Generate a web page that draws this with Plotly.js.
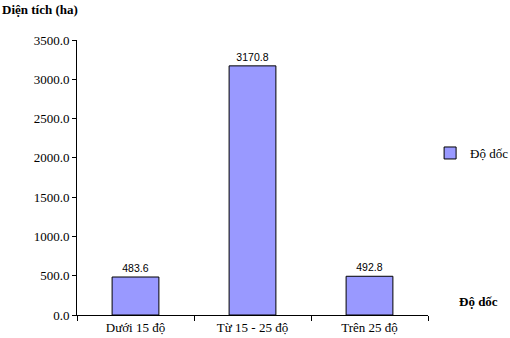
<!DOCTYPE html>
<html><head><meta charset="utf-8">
<script src="https://cdn.plot.ly/plotly-3.0.1.min.js"></script>
<style>body{margin:0;padding:0;background:#fff}</style>
</head><body>
<div id="chart" style="width:510px;height:338px"></div>
<script>
const categories = ["Dưới 15 độ", "Từ 15 - 25 độ", "Trên 25 độ"];
const values = [483.6, 3170.8, 492.8];
const labels = ["483.6", "3170.8", "492.8"];
const seriesName = "Độ dốc";

const serif = "'Liberation Serif', 'Times New Roman', serif";
const trace = {
  type: "bar",
  x: categories,
  y: values,
  name: seriesName,
  text: labels,
  textposition: "outside",
  textfont: {family: "'Liberation Sans', Arial, sans-serif", size: 10.5, color: "#000"},
  cliponaxis: false,
  marker: {color: "#9999FF", line: {color: "#000", width: 1}},
  showlegend: true,
  hoverinfo: "none"
};
const layout = {
  width: 510, height: 338,
  margin: {l: 77, r: 82, t: 40, b: 23, autoexpand: false},
  paper_bgcolor: "#fff", plot_bgcolor: "#fff",
  bargap: 0.6,
  font: {family: serif, size: 13, color: "#000"},
  xaxis: {
    showline: true, linecolor: "#000", linewidth: 1,
    ticks: "outside", tickson: "boundaries", ticklen: 5, tickcolor: "#000",
    tickfont: {family: serif, size: 13}, showgrid: false, zeroline: false
  },
  yaxis: {
    range: [0, 3500], dtick: 500, tick0: 0, tickformat: ".1f",
    showline: true, linecolor: "#000", linewidth: 1,
    ticks: "outside", ticklen: 4, tickcolor: "#000",
    tickfont: {family: serif, size: 13}, showgrid: false, zeroline: false
  },
  legend: {
    x: 1.006, y: 0.589, xanchor: "left", yanchor: "middle",
    font: {family: serif, size: 13}, itemwidth: 30
  },
  annotations: [
    {text: "<b>Diện tích (ha)</b>", xref: "paper", yref: "paper", x: -77/275*275/351, y: 1 + 30/275,
     xanchor: "left", yanchor: "middle", showarrow: false, font: {family: serif, size: 13}},
    {text: "<b>Độ dốc</b>", xref: "paper", yref: "paper", x: 1 + 50/351, y: 14/275,
     xanchor: "center", yanchor: "middle", showarrow: false, font: {family: serif, size: 13}}
  ]
};
Plotly.newPlot("chart", [trace], layout, {displayModeBar: false, staticPlot: true});
</script>
</body></html>
